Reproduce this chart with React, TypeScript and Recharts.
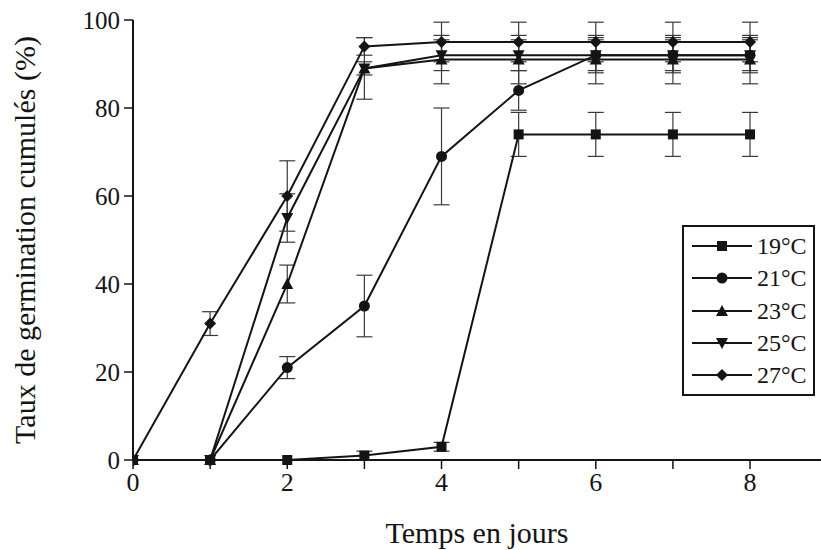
import { ErrorBar, Label, Line, LineChart, XAxis, YAxis } from 'recharts';

const days = [0, 1, 2, 3, 4, 5, 6, 7, 8];
const xTicks = [0, 1, 2, 3, 4, 5, 6, 7, 8];
const yTicks = [0, 20, 40, 60, 80, 100];

const v19 = [0, 0, 0, 1, 3, 74, 74, 74, 74];
const e19 = [null, null, null, 1, 1, 5, 5, 5, 5];
const v21 = [0, 0, 21, 35, 69, 84, 92, 92, 92];
const e21 = [null, null, 2.5, 7, 11, 4.5, 4, 4, 4];
const v23 = [0, 0, 40, 89, 91, 91, 91, 91, 91];
const e23 = [null, null, 4.3, 7, 5.5, 5.5, 5.5, 5.5, 5.5];
const v25 = [0, 0, 55, 89, 92, 92, 92, 92, 92];
const e25 = [null, null, 5.5, 1.5, 3.5, 3.5, 3.5, 3.5, 3.5];
const v27 = [0, 31, 60, 94, 95, 95, 95, 95, 95];
const e27 = [null, 2.7, 8, 2, 4.5, 4.5, 4.5, 4.5, 4.5];

const seriesNames = ['19°C', '21°C', '23°C', '25°C', '27°C'];

const rows = days.map((d, i) => ({
  day: d,
  t19: v19[i], e19: e19[i],
  t21: v21[i], e21: e21[i],
  t23: v23[i], e23: e23[i],
  t25: v25[i], e25: e25[i],
  t27: v27[i], e27: e27[i],
}));

const ink = '#141414';
const font = '"Liberation Serif", "Times New Roman", serif';

type Shape = 'square' | 'circle' | 'up' | 'down' | 'diamond';

function marker(shape: Shape, cx: number, cy: number, key?: string | number) {
  const s = 5;
  if (shape === 'square') return <rect key={key} x={cx - s} y={cy - s} width={s * 2} height={s * 2} fill={ink} />;
  if (shape === 'circle') return <circle key={key} cx={cx} cy={cy} r={s + 0.5} fill={ink} />;
  if (shape === 'up')
    return <path key={key} d={`M${cx},${cy - s - 1}L${cx + s + 1},${cy + s}L${cx - s - 1},${cy + s}Z`} fill={ink} />;
  if (shape === 'down')
    return <path key={key} d={`M${cx},${cy + s + 1}L${cx + s + 1},${cy - s}L${cx - s - 1},${cy - s}Z`} fill={ink} />;
  return <path key={key} d={`M${cx},${cy - s - 1}L${cx + s + 1},${cy}L${cx},${cy + s + 1}L${cx - s - 1},${cy}Z`} fill={ink} />;
}

const shapes: Shape[] = ['square', 'circle', 'up', 'down', 'diamond'];
const keys = ['t19', 't21', 't23', 't25', 't27'];
const errKeys = ['e19', 'e21', 'e23', 'e25', 'e27'];

// legend drawn as an overlay box so it does not shrink the plot area
function LegendBox() {
  return (
    <div
      style={{
        position: 'absolute',
        left: 682,
        top: 225,
        width: 133,
        height: 171,
        border: `2px solid ${ink}`,
        background: '#fff',
        boxSizing: 'border-box',
        paddingTop: 3,
      }}
    >
      {seriesNames.map((name, i) => (
        <div key={name} style={{ display: 'flex', alignItems: 'center', height: 32.3 }}>
          <svg width={64} height={20} style={{ marginLeft: 6, flex: 'none' }}>
            <line x1={2} y1={10} x2={62} y2={10} stroke={ink} strokeWidth={2} />
            {marker(shapes[i], 32, 10)}
          </svg>
          <span style={{ fontFamily: font, fontSize: 24, color: ink, marginLeft: 3, lineHeight: 1 }}>{name}</span>
        </div>
      ))}
    </div>
  );
}

export default function App() {
  return (
    <div style={{ position: 'absolute', left: 0, top: 0, width: 821, height: 550, background: '#fff' }}>
      <LineChart width={821} height={550} data={rows} margin={{ top: 20, right: 0, bottom: 0, left: 0 }}>
        <XAxis
          dataKey="day"
          type="number"
          domain={[0, 8.92]}
          ticks={xTicks}
          allowDataOverflow
          height={90}
          axisLine={{ stroke: ink, strokeWidth: 2 }}
          tickLine={{ stroke: ink, strokeWidth: 1.5 }}
          tickSize={9}
          tickMargin={4}
          tickFormatter={(v: number) => (v % 2 === 0 ? String(v) : '')}
          tick={{ fill: ink, fontSize: 26, fontFamily: font }}
        >
          <Label
            value="Temps en jours"
            position="insideBottom"
            offset={7}
            style={{ fill: ink, fontSize: 30, fontFamily: font }}
          />
        </XAxis>
        <YAxis
          type="number"
          domain={[0, 100]}
          ticks={yTicks}
          width={133}
          axisLine={{ stroke: ink, strokeWidth: 2 }}
          tickLine={{ stroke: ink, strokeWidth: 1.5 }}
          tickSize={9}
          tickMargin={4}
          tick={{ fill: ink, fontSize: 25, fontFamily: font }}
        >
          <Label
            value="Taux de germination cumulés (%)"
            angle={-90}
            position="insideLeft"
            offset={24}
            style={{ fill: ink, fontSize: 30, fontFamily: font, textAnchor: 'middle' }}
          />
        </YAxis>
        {keys.map((k, i) => (
          <Line
            key={k}
            dataKey={k}
            name={seriesNames[i]}
            stroke={ink}
            strokeWidth={2}
            isAnimationActive={false}
            dot={(p: any) => marker(shapes[i], p.cx, p.cy, `${k}-${p.index}`)}
            activeDot={false}
          >
            <ErrorBar
              dataKey={errKeys[i]}
              width={8}
              stroke="#3a3a3a"
              strokeWidth={1.2}
              direction="y"
              isAnimationActive={false}
            />
          </Line>
        ))}
      </LineChart>
      <LegendBox />
    </div>
  );
}
